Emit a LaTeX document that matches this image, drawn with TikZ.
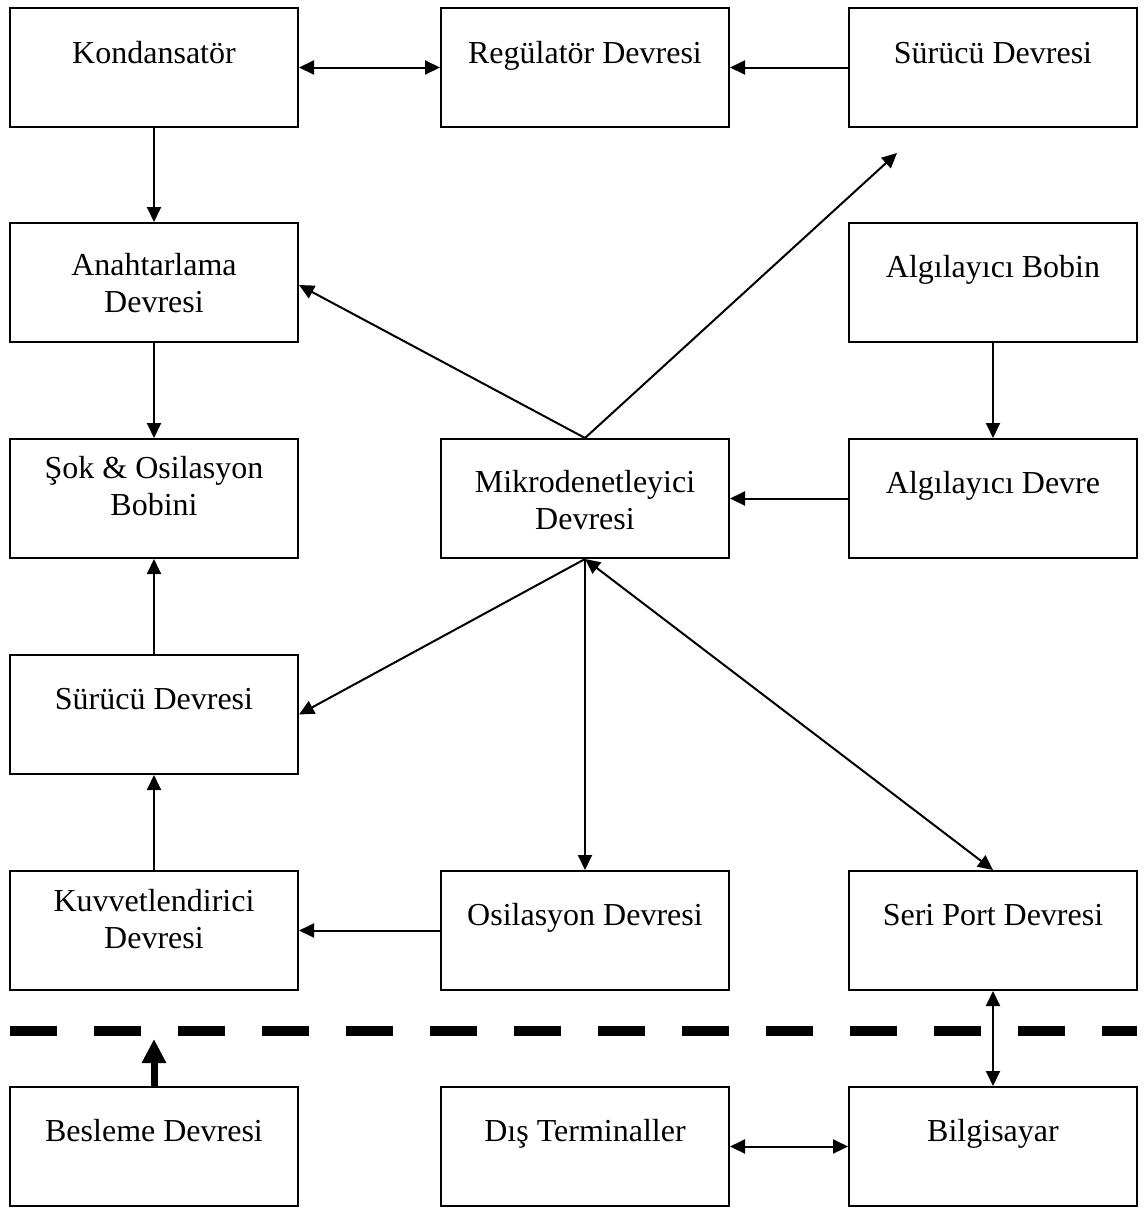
\documentclass[tikz,border=0pt]{standalone}
\usepackage{fontspec}
\setmainfont{Liberation Serif}
\usetikzlibrary{arrows.meta}

% Box content: fixed-size frame, first baseline #1 below the top edge
\newcommand{\bxt}[2]{\parbox[c][119pt][t]{288pt}{\centering\rule{0pt}{#1}#2}}

\begin{document}
\begin{tikzpicture}[x=1pt,y=-1pt,
  box/.style={draw, line width=2pt, inner sep=0pt, font=\fontsize{32}{37}\selectfont},
  link/.style={line width=2pt, -{Triangle[length=15pt,width=14pt]}},
  dlink/.style={line width=2pt, {Triangle[length=15pt,width=14pt]}-{Triangle[length=15pt,width=14pt]}},
  power/.style={line width=7pt, -{Triangle[length=24pt,width=23pt]}},
  divider/.style={line width=10pt, dash pattern=on 47pt off 37pt}]

\useasboundingbox (0,0) rectangle (1146,1210);

% row 1
\node[box] (kond) at (154,67.5) {\bxt{55pt}{Kondansatör}};
\node[box] (reg)  at (585,67.5) {\bxt{55pt}{Regülatör Devresi}};
\node[box] (sur1) at (993,67.5) {\bxt{55pt}{Sürücü Devresi}};
% row 2
\node[box] (anah) at (154,282.5) {\bxt{52pt}{Anahtarlama\\Devresi}};
\node[box] (bob)  at (993,282.5) {\bxt{54pt}{Algılayıcı Bobin}};
% row 3
\node[box] (sok)  at (154,498.5) {\bxt{39pt}{Şok \& Osilasyon\\Bobini}};
\node[box] (mik)  at (585,498.5) {\bxt{53pt}{Mikrodenetleyici\\Devresi}};
\node[box] (alg)  at (993,498.5) {\bxt{54pt}{Algılayıcı Devre}};
% row 4
\node[box] (sur2) at (154,714.5) {\bxt{54pt}{Sürücü Devresi}};
% row 5
\node[box] (kuv)  at (154,930.5) {\bxt{40pt}{Kuvvetlendirici\\Devresi}};
\node[box] (osc)  at (585,930.5) {\bxt{54pt}{Osilasyon Devresi}};
\node[box] (seri) at (993,930.5) {\bxt{54pt}{Seri Port Devresi}};
% row 6
\node[box] (bes)  at (154,1146.5) {\bxt{54pt}{Besleme Devresi}};
\node[box] (dis)  at (585,1146.5) {\bxt{54pt}{Dış Terminaller}};
\node[box] (bil)  at (993,1146.5) {\bxt{54pt}{Bilgisayar}};

% free ends
\coordinate (mtip) at (897,153);
\coordinate (ptip) at (154,1039);
\coordinate (dl) at (10,1031);
\coordinate (dr) at (1137,1031);

% boundary line
\draw[divider] (dl) -- (dr);

% connectors
\draw[dlink] (kond.east) -- (reg.west);
\draw[link] (sur1.west) -- (reg.east);
\draw[link] (kond.south) -- (anah.north);
\draw[link] (anah.south) -- (sok.north);
\draw[link] (sur2.north) -- (sok.south);
\draw[link] (kuv.north) -- (sur2.south);
\draw[link] (osc.west) -- (kuv.east);
\draw[link] (bob.south) -- (alg.north);
\draw[link] (alg.west) -- (mik.east);
\draw[link] (mik.north) -- ([yshift=-2.5pt]anah.east);
\draw[link] (mik.north) -- (mtip);
\draw[link] (mik.south) -- (sur2.east);
\draw[link] (mik.south) -- (osc.north);
\draw[dlink] (mik.south) -- (seri.north);
\draw[dlink] (seri.south) -- (bil.north);
\draw[dlink] (dis.east) -- (bil.west);
\draw[power] (bes.north) -- (ptip);
\end{tikzpicture}
\end{document}
